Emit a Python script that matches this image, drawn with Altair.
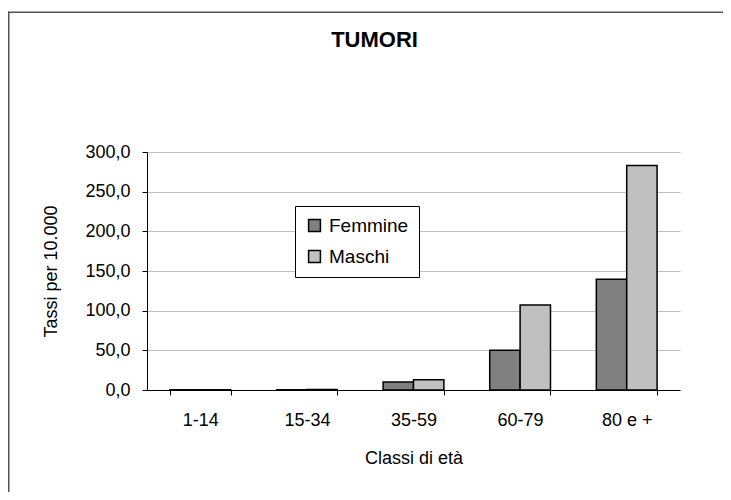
import altair as alt
import pandas as pd

categories = ["1-14", "15-34", "35-59", "60-79", "80 e +"]
femmine = [0.3, 0.4, 10.0, 50.0, 139.5]
maschi = [0.4, 0.5, 13.0, 107.0, 283.0]
series = ["Femmine", "Maschi"]
colors = ["#808080", "#c0c0c0"]
y_ticks = [0, 50, 100, 150, 200, 250, 300]
chart_title = ["TUMORI"]

rows = []
for c, f, m in zip(categories, femmine, maschi):
    rows.append({"classe": c, "sesso": "Femmine", "tasso": f})
    rows.append({"classe": c, "sesso": "Maschi", "tasso": m})
df = pd.DataFrame(rows)

FONT = "Liberation Sans"
W, H = 533, 238

bars = alt.Chart(df).mark_bar(stroke="black", strokeWidth=1.5).encode(
    x=alt.X("classe:N", sort=categories, title="Classi di età",
            scale=alt.Scale(paddingInner=0.43, paddingOuter=0.215),
            axis=alt.Axis(tickBand="extent", labelAngle=0,
                          tickSize=5, tickColor="black", domainColor="black",
                          labelPadding=16, titlePadding=20, grid=False)),
    xOffset=alt.XOffset("sesso:N", sort=series,
                        scale=alt.Scale(paddingInner=0, paddingOuter=0)),
    y=alt.Y("tasso:Q", title="Tassi per 10.000",
            scale=alt.Scale(domain=[0, 300], nice=False),
            axis=alt.Axis(values=y_ticks, tickSize=5, tickColor="black",
                          domainColor="black", gridColor="#c0c0c0",
                          labelPadding=12, titlePadding=24,
                          labelExpr="replace(format(datum.value, '.1f'), '.', ',')")),
    color=alt.Color("sesso:N", sort=series,
                    scale=alt.Scale(domain=series, range=colors),
                    legend=alt.Legend(title=None, orient="none", legendX=148, legendY=54,
                                      strokeColor="black", fillColor="white", padding=10,
                                      symbolType="square", symbolSize=140,
                                      symbolStrokeColor="black", symbolStrokeWidth=1.5,
                                      labelFontSize=19, labelFont=FONT, labelColor="black",
                                      rowPadding=11, labelOffset=5)),
)

# outer chart frame: only its top and left edges fall inside the picture
frame_df = pd.DataFrame({"k": [0]})
frame_top = alt.Chart(frame_df).mark_rect(fill="#555555", strokeWidth=0).encode(
    x=alt.value(-139), x2=alt.value(576), y=alt.value(-140.5), y2=alt.value(-139),
)
frame_left = alt.Chart(frame_df).mark_rect(fill="#555555", strokeWidth=0).encode(
    x=alt.value(-139), x2=alt.value(-137.5), y=alt.value(-140.5), y2=alt.value(340),
)

title_df = pd.DataFrame({"t": chart_title})
title = alt.Chart(title_df).mark_text(
    font=FONT, fontSize=22, fontWeight="bold", color="black",
    align="center", baseline="alphabetic",
).encode(text="t:N", x=alt.value(227.5), y=alt.value(-105))

chart = alt.layer(frame_top, frame_left, title, bars).properties(
    width=W, height=H,
    autosize=alt.AutoSizeParams(type="none"),
    padding={"left": 139, "top": 144, "right": 43, "bottom": 102},
).configure_axis(
    labelFont=FONT, titleFont=FONT, labelFontSize=18, titleFontSize=18,
    labelColor="black", titleColor="black", titleFontWeight="normal",
).configure_view(stroke=None)

chart.save("out.html", embed_options={"renderer": "svg", "actions": False})
